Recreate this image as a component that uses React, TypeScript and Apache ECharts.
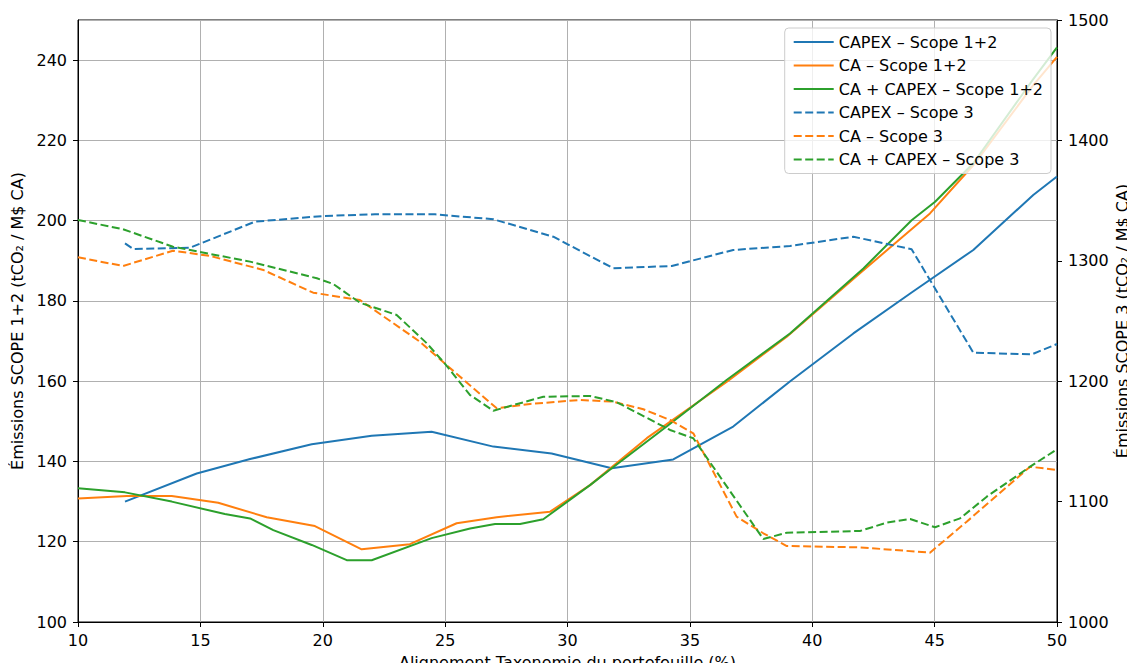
import React, { useEffect, useRef } from "react";
import * as echarts from "echarts";

// ---- Data (x = Alignement Taxonomie %, y = émissions) ----
const capexS12X = [11.92, 14.85, 17.03, 19.55, 22.0, 24.45, 26.97, 29.35, 31.81, 34.32, 36.77, 39.1, 41.68, 44.06, 46.58, 49.03, 50.0];
const capexS12Y = [130.0, 137.0, 140.6, 144.3, 146.4, 147.4, 143.7, 142.0, 138.3, 140.5, 148.7, 160.0, 171.9, 182.1, 192.7, 206.4, 211.0];

const caS12X = [10.0, 12.0, 13.83, 15.73, 17.71, 19.68, 21.59, 23.56, 25.47, 27.11, 29.29, 30.92, 33.24, 36.5, 38.96, 41.95, 44.81, 46.58, 49.0, 50.0];
const caS12Y = [130.8, 131.4, 131.4, 129.7, 126.1, 123.9, 118.1, 119.4, 124.6, 126.1, 127.5, 134.1, 145.8, 159.8, 171.1, 186.9, 201.8, 213.8, 233.5, 240.8];

const bothS12X = [10.0, 11.92, 13.83, 16.0, 17.03, 17.98, 19.55, 20.98, 22.0, 24.45, 26.02, 27.04, 28.06, 29.01, 30.92, 31.81, 34.05, 36.5, 39.09, 42.09, 44.06, 45.02, 46.58, 49.0, 50.0];
const bothS12Y = [133.3, 132.3, 130.0, 126.9, 125.8, 122.9, 119.2, 115.4, 115.4, 120.9, 123.3, 124.4, 124.4, 125.6, 134.1, 138.3, 148.7, 160.3, 171.9, 188.1, 200.1, 204.7, 214.3, 235.0, 243.2];

const capexS3X = [11.92, 12.26, 14.58, 17.23, 20.02, 22.13, 24.59, 26.97, 29.42, 31.87, 34.26, 36.77, 39.09, 41.68, 44.06, 46.58, 48.97, 50.0];
const capexS3Y = [1314.5, 1309.8, 1310.9, 1332.5, 1337.2, 1338.6, 1338.6, 1334.5, 1320.0, 1293.8, 1295.7, 1309.0, 1312.3, 1320.0, 1309.6, 1223.7, 1222.3, 1230.9];

const caS3X = [10.0, 11.84, 13.88, 15.4, 17.57, 19.61, 21.52, 23.97, 24.99, 27.11, 28.47, 30.51, 31.87, 33.1, 34.19, 35.14, 36.91, 38.0, 38.96, 41.95, 44.81, 46.31, 48.9, 50.0];
const caS3Y = [1302.9, 1295.7, 1308.4, 1304.0, 1292.4, 1273.5, 1267.4, 1232.8, 1214.6, 1177.5, 1181.1, 1184.4, 1183.0, 1176.7, 1167.8, 1156.7, 1087.5, 1073.7, 1063.1, 1062.0, 1057.6, 1083.3, 1129.0, 1126.2];

const bothS3X = [10.0, 11.84, 13.88, 17.03, 19.76, 20.43, 21.52, 23.02, 24.25, 24.99, 26.02, 26.97, 29.01, 30.92, 32.01, 34.19, 35.14, 38.0, 38.96, 41.95, 43.04, 44.0, 45.02, 46.04, 47.13, 48.9, 50.0];
const bothS3Y = [1333.9, 1326.2, 1311.7, 1299.3, 1285.5, 1280.7, 1265.2, 1255.0, 1231.5, 1214.6, 1188.5, 1175.5, 1187.1, 1187.7, 1182.6, 1159.5, 1152.6, 1068.9, 1074.2, 1075.6, 1082.5, 1085.5, 1078.7, 1086.1, 1104.1, 1129.0, 1143.4];

const seriesNames = [
  "CAPEX – Scope 1+2",
  "CA – Scope 1+2",
  "CA + CAPEX – Scope 1+2",
  "CAPEX – Scope 3",
  "CA – Scope 3",
  "CA + CAPEX – Scope 3",
];
const colors = ["#1f77b4", "#ff7f0e", "#2ca02c"];

const xTicks = { min: 10, max: 50, interval: 5 };
const yLeft = { min: 100, max: 250, interval: 20 };
const yRight = { min: 1000, max: 1500, interval: 100 };

const FONT = "DejaVu Sans";

function pairs(xs: number[], ys: number[]) {
  return xs.map((x, i) => [x, ys[i]]);
}

export default function App() {
  const ref = useRef<HTMLDivElement>(null);
  useEffect(() => {
    if (!ref.current) return;
    const chart = echarts.init(ref.current, undefined, { renderer: "svg" });
    const datasets = [
      pairs(capexS12X, capexS12Y),
      pairs(caS12X, caS12Y),
      pairs(bothS12X, bothS12Y),
      pairs(capexS3X, capexS3Y),
      pairs(caS3X, caS3Y),
      pairs(bothS3X, bothS3Y),
    ];
    const series = datasets.map((d, i) => ({
      name: seriesNames[i],
      type: "line",
      yAxisIndex: i < 3 ? 0 : 1,
      data: d,
      symbol: "none",
      showSymbol: false,
      color: colors[i % 3],
      lineStyle: {
        color: colors[i % 3],
        width: 2,
        type: i < 3 ? "solid" : [8, 3.5],
      },
      z: 3,
    }));
    const axisText = { color: "#000", fontFamily: FONT, fontSize: 16 };
    const plain = (v: number) => String(v);
    chart.setOption({
      animation: false,
      backgroundColor: "#fff",
      grid: {
        left: 78,
        right: 78,
        top: 20,
        bottom: 49,
        show: true,
        borderColor: "#000",
        borderWidth: 1,
        backgroundColor: "transparent",
        outerBoundsMode: "none",
        containLabel: false,
      },
      legend: {
        orient: "vertical",
        right: 84,
        top: 28,
        padding: [6, 8, 6, 8],
        backgroundColor: "rgba(255,255,255,0.8)",
        borderColor: "#cccccc",
        borderWidth: 1,
        borderRadius: 4,
        itemGap: 7.5,
        itemWidth: 40,
        itemHeight: 16,
        itemStyle: { opacity: 0 },
        textStyle: { color: "#000", fontFamily: FONT, fontSize: 16 },
        data: seriesNames,
      },
      xAxis: {
        type: "value",
        min: xTicks.min,
        max: xTicks.max,
        interval: xTicks.interval,
        name: "Alignement Taxonomie du portefeuille (%)",
        nameLocation: "middle",
        nameGap: 32,
        nameTextStyle: { ...axisText },
        axisLine: { show: true, lineStyle: { color: "#000", width: 1 } },
        axisTick: { show: true, length: 5, lineStyle: { color: "#000" } },
        axisLabel: { ...axisText, margin: 10, formatter: plain },
        splitLine: { show: true, lineStyle: { color: "#b0b0b0", width: 1 } },
      },
      yAxis: [
        {
          type: "value",
          position: "left",
          min: yLeft.min,
          max: yLeft.max,
          interval: yLeft.interval,
          name: "Émissions SCOPE 1+2 (tCO₂ / M$ CA)",
          nameLocation: "middle",
          nameRotate: 90,
          nameGap: 50,
          nameTextStyle: { ...axisText },
          axisLine: { show: true, lineStyle: { color: "#000", width: 1 } },
          axisTick: { show: true, length: 5, lineStyle: { color: "#000" } },
          axisLabel: { ...axisText, margin: 11, showMaxLabel: false, formatter: plain },
          splitLine: { show: true, lineStyle: { color: "#b0b0b0", width: 1 } },
        },
        {
          type: "value",
          position: "right",
          min: yRight.min,
          max: yRight.max,
          interval: yRight.interval,
          name: "Émissions SCOPE 3 (tCO₂ / M$ CA)",
          nameLocation: "middle",
          nameRotate: 90,
          nameGap: 57,
          nameMoveOverlap: false,
          nameTextStyle: { ...axisText },
          axisLine: { show: true, lineStyle: { color: "#000", width: 1 } },
          axisTick: { show: true, length: 5, lineStyle: { color: "#000" } },
          axisLabel: { ...axisText, margin: 11, formatter: plain },
          splitLine: { show: false },
        },
      ],
      series,
    });
    return () => chart.dispose();
  }, []);
  return <div ref={ref} style={{ width: 1135, height: 671, margin: -8 }} />;
}
